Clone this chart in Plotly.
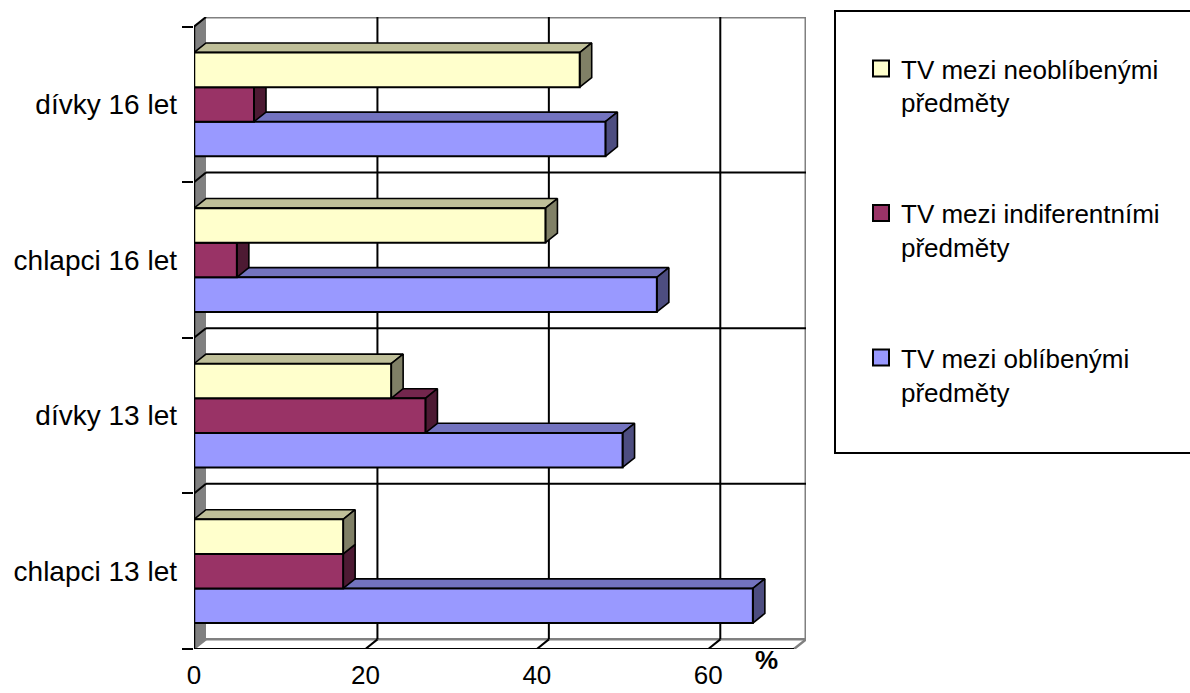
import plotly.graph_objects as go

# ---- data ----
categories = ["chlapci 13 let", "dívky 13 let", "chlapci 16 let", "dívky 16 let"]
tv_oblibene = [65.2, 50, 54, 48]        # TV mezi oblíbenými předměty
tv_indiferentni = [17.4, 27, 5, 7]      # TV mezi indiferentními předměty
tv_neoblibene = [17.4, 23, 41, 45]      # TV mezi neoblíbenými předměty
x_tick_values = [0, 20, 40, 60]
series_names = ["TV mezi oblíbenými<br>předměty",
                "TV mezi indiferentními<br>předměty",
                "TV mezi neoblíbenými<br>předměty"]

# ---- styling / geometry ----
FONT = "Liberation Sans, Arial, sans-serif"
DX, DY = 1.4, 0.062          # 3-D depth offset in data units
XMAX = 70
BAR = 2 / 9
W, H = 1190, 693
ML, MR, MT, MB = 194, 384, 17, 44

series = [
    # values, offset, front, top, side
    (tv_oblibene, -BAR, "#9999FF", "#7373BF", "#4D4D80"),
    (tv_indiferentni, 0.0, "#993366", "#73264D", "#4D1A33"),
    (tv_neoblibene, BAR, "#FFFFCC", "#BFBF99", "#808066"),
]


def faces(values, offset, kind):
    xs, ys = [], []
    for i, v in enumerate(values):
        b = i + offset - BAR / 2
        t = i + offset + BAR / 2
        if kind == "front":
            px, py = [0, v, v, 0, 0], [b, b, t, t, b]
        elif kind == "top":
            px, py = [0, v, v + DX, DX, 0], [t, t, t + DY, t + DY, t]
        else:
            px, py = [v, v + DX, v + DX, v, v], [b, b + DY, t + DY, t, b]
        xs += px + [None]
        ys += py + [None]
    return xs, ys


fig = go.Figure()
for values, off, cf, ct, cs in series:
    for kind, col in (("top", ct), ("side", cs), ("front", cf)):
        xs, ys = faces(values, off, kind)
        fig.add_trace(go.Scatter(
            x=xs, y=ys, mode="lines", fill="toself", fillcolor=col,
            line=dict(color="black", width=2 if kind == "front" else 1.6),
            showlegend=False, hoverinfo="skip"))

# legend entries (top to bottom: neoblíbené, indiferentní, oblíbené)
for idx in (2, 1, 0):
    fig.add_trace(go.Scatter(
        x=[None], y=[None], mode="markers", name=series_names[idx],
        legendgroup=str(idx),
        marker=dict(symbol="square", size=16, color=series[idx][2],
                    line=dict(color="black", width=2))))

# ---- walls, floor and gridlines ----
shapes = []
GRAY = "#808080"
shapes.append(dict(type="path", xref="x", yref="y", layer="below",
                   path=f"M 0,-0.5 L {DX},{-0.5 + DY} L {DX},{3.5 + DY} L 0,3.5 Z",
                   fillcolor=GRAY, line=dict(width=0)))


def seg(x0, y0, x1, y1, color="black", width=2, layer="below"):
    shapes.append(dict(type="line", xref="x", yref="y", layer=layer,
                       x0=x0, y0=y0, x1=x1, y1=y1,
                       line=dict(color=color, width=width)))


# back wall borders (gray)
seg(DX, 3.5 + DY, XMAX + DX, 3.5 + DY, GRAY, 3)
seg(XMAX + DX, -0.5 + DY, XMAX + DX, 3.5 + DY, GRAY, 3)
seg(DX, -0.5 + DY, XMAX + DX, -0.5 + DY, GRAY, 2.5)
seg(XMAX, -0.5, XMAX + DX, -0.5 + DY, GRAY, 2.5)
seg(0, -0.5, DX, -0.5 + DY, GRAY, 2)
# back wall horizontal gridlines + left wall diagonals
for k in (0.5, 1.5, 2.5):
    seg(DX, k + DY, XMAX + DX, k + DY)
for k in (0.5, 1.5, 2.5, 3.5):
    seg(0, k, DX, k + DY)
# back wall vertical gridlines + floor diagonals
for v in x_tick_values[1:]:
    seg(v + DX, -0.5 + DY, v + DX, 3.5 + DY)
    seg(v, -0.5, v + DX, -0.5 + DY)
# front axes
seg(0, -0.5, XMAX, -0.5, "black", 2, "above")
seg(0, -0.5, 0, 3.5, "black", 2.5, "above")
# x tick marks (pixel length below the front axis)
for v in x_tick_values:
    shapes.append(dict(type="line", xref="x", yref="y", layer="above",
                       ysizemode="pixel", yanchor=-0.5, x0=v, x1=v, y0=0, y1=-12,
                       line=dict(color="black", width=2)))

# legend border box
def px2paper_x(px):
    return (px - ML) / (W - ML - MR)


def px2paper_y(py):
    return (H - MB - py) / (H - MT - MB)


shapes.append(dict(type="rect", xref="paper", yref="paper",
                   x0=px2paper_x(835), x1=px2paper_x(1200),
                   y0=px2paper_y(453), y1=px2paper_y(11),
                   line=dict(color="black", width=2), fillcolor="rgba(0,0,0,0)"))

fig.update_layout(
    width=W, height=H,
    margin=dict(l=ML, r=MR, t=MT, b=MB, autoexpand=False),
    paper_bgcolor="white", plot_bgcolor="white",
    font=dict(family=FONT, color="black", size=26),
    shapes=shapes,
    showlegend=True,
    legend=dict(x=px2paper_x(861), xanchor="left",
                y=px2paper_y(45), yanchor="top",
                font=dict(family=FONT, size=26, color="black"),
                tracegroupgap=74, valign="top",
                bgcolor="rgba(0,0,0,0)", borderwidth=0),
    xaxis=dict(range=[0, XMAX + DX], tickvals=x_tick_values,
               ticktext=[str(v) for v in x_tick_values],
               showgrid=False, zeroline=False, showline=False, automargin=False,
               ticks="", ticklabelstandoff=8,
               tickfont=dict(size=26), fixedrange=True),
    yaxis=dict(range=[-0.5, 3.5 + DY], tickvals=[0, 1, 2, 3],
               ticktext=categories, showgrid=False, zeroline=False,
               showline=False, ticks="", ticklabelstandoff=16, automargin=False,
               minor=dict(tickvals=[-0.5, 0.5, 1.5, 2.5, 3.5], ticks="outside",
                          ticklen=11, tickwidth=2, tickcolor="black", showgrid=False),
               tickfont=dict(size=28), fixedrange=True),
    annotations=[dict(x=66.8, y=-0.5, xref="x", yref="y", text="<b>%</b>",
                      showarrow=False, yanchor="middle", yshift=-11,
                      font=dict(family=FONT, size=26, color="black"))],
)

fig.write_html("out.html")
